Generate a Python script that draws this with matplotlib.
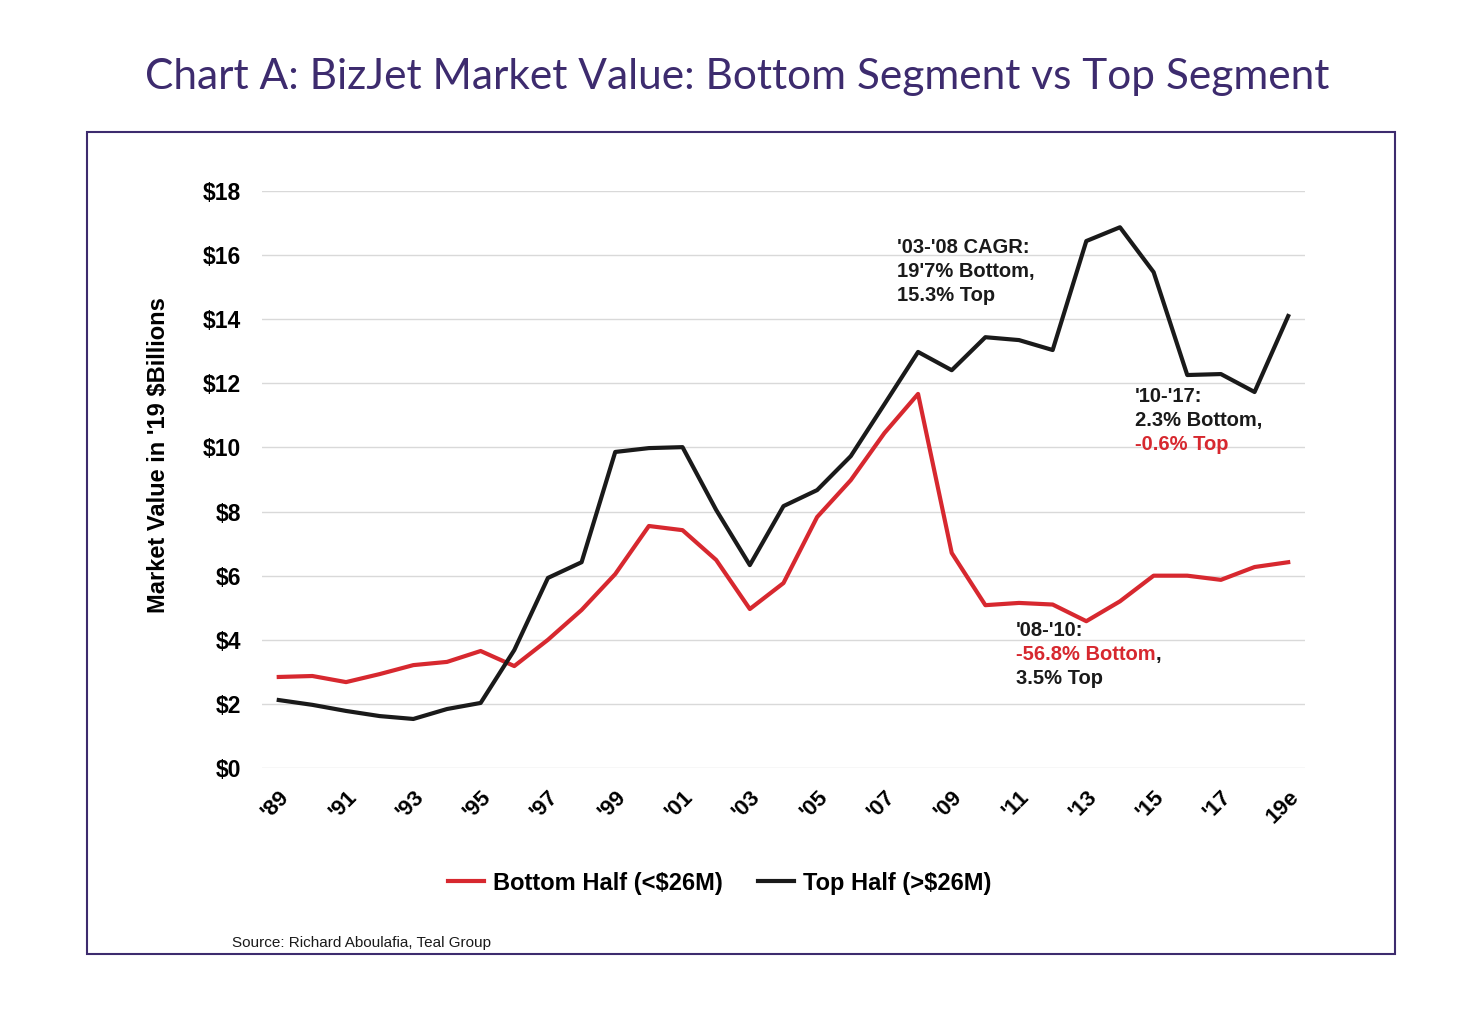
import matplotlib.pyplot as plt
from matplotlib.patches import Rectangle

plt.rcParams['font.family'] = ['Liberation Sans', 'DejaVu Sans']

years = list(range(1989, 2020))
bottom_half = [2.84, 2.87, 2.68, 2.93, 3.21, 3.31, 3.65, 3.18, 4.00, 4.93,
               6.05, 7.55, 7.42, 6.49, 4.96, 5.77, 7.83, 8.98, 10.45, 11.67,
               6.71, 5.08, 5.15, 5.10, 4.58, 5.20, 6.00, 6.00, 5.87, 6.27, 6.42]
top_half = [2.12, 1.97, 1.78, 1.62, 1.53, 1.84, 2.03, 3.68, 5.93, 6.42,
            9.86, 9.98, 10.01, 8.05, 6.33, 8.17, 8.67, 9.73, 11.35, 12.98,
            12.41, 13.44, 13.35, 13.04, 16.44, 16.87, 15.47, 12.26, 12.29, 11.73, 14.10]
tick_years = list(range(1989, 2020, 2))
tick_labels = ["'89", "'91", "'93", "'95", "'97", "'99", "'01", "'03", "'05",
               "'07", "'09", "'11", "'13", "'15", "'17", "19e"]
y_ticks = list(range(0, 19, 2))

RED = '#d7282f'
BLACK = '#1a1a1a'
PURPLE = '#3d2b6e'

fig = plt.figure(figsize=(14.84, 10.14), dpi=100)
fig.patches.append(Rectangle((0.0586, 0.0592), 0.8814, 0.8107, transform=fig.transFigure,
                             fill=False, edgecolor=PURPLE, linewidth=1.5))

fig.text(0.497, 0.924, 'Chart A: BizJet Market Value: Bottom Segment vs Top Segment',
         ha='center', va='center', fontsize=30.5, color=PURPLE, family=['Lato', 'DejaVu Sans'])

ax = fig.add_axes([0.1765, 0.2426, 0.7029, 0.569])
ax.plot(years, bottom_half, color=RED, lw=3, label='Bottom Half (<$26M)')
ax.plot(years, top_half, color=BLACK, lw=3, label='Top Half (>$26M)')

ax.set_xlim(1988.5, 2019.5)
ax.set_ylim(0, 18)
ax.set_yticks(y_ticks)
ax.set_yticklabels(['$' + str(v) for v in y_ticks], fontsize=16.5, fontweight='bold')
ax.set_xticks(tick_years)
ax.set_xticklabels(tick_labels, fontsize=16, fontweight='bold', rotation=45,
                   ha='right', rotation_mode='anchor')
ax.tick_params(length=0)
ax.tick_params(axis='y', pad=15)
ax.tick_params(axis='x', pad=13)
for s in ax.spines.values():
    s.set_visible(False)
ax.grid(axis='y', color='#d9d9d9', lw=1)
ax.set_axisbelow(True)
ax.set_ylabel("Market Value in '19 $Billions", fontsize=17, fontweight='bold')
ax.yaxis.set_label_coords(-0.088, 0.542)

def note(x, y, lines):
    for i, parts in enumerate(lines):
        prev = None
        for txt, col in parts:
            if prev is None:
                prev = ax.annotate(txt, xy=(x, y), xytext=(0, -17.5 * i), textcoords='offset points',
                                   fontsize=14.5, fontweight='bold', color=col, va='top', ha='left')
            else:
                prev = ax.annotate(txt, xy=(1, 0), xycoords=prev, fontsize=14.5,
                                   fontweight='bold', color=col, va='bottom', ha='left')

note(2007.36, 16.55, [[("'03-'08 CAGR:", BLACK)], [("19'7% Bottom,", BLACK)], [("15.3% Top", BLACK)]])
note(2014.45, 11.9, [[("'10-'17:", BLACK)], [("2.3% Bottom,", BLACK)], [("-0.6% Top", RED)]])
note(2010.9, 4.6, [[("'08-'10:", BLACK)], [("-56.8% Bottom", RED), (",", BLACK)], [("3.5% Top", BLACK)]])

fig.legend(loc='center', bbox_to_anchor=(0.485, 0.129), ncol=2, frameon=False,
           prop={'size': 17, 'weight': 'bold'}, handlelength=1.5, columnspacing=1.5, handletextpad=0.4)

fig.text(0.156, 0.066, 'Source: Richard Aboulafia, Teal Group', fontsize=11, color=BLACK)

plt.savefig('out.png', dpi=100)
